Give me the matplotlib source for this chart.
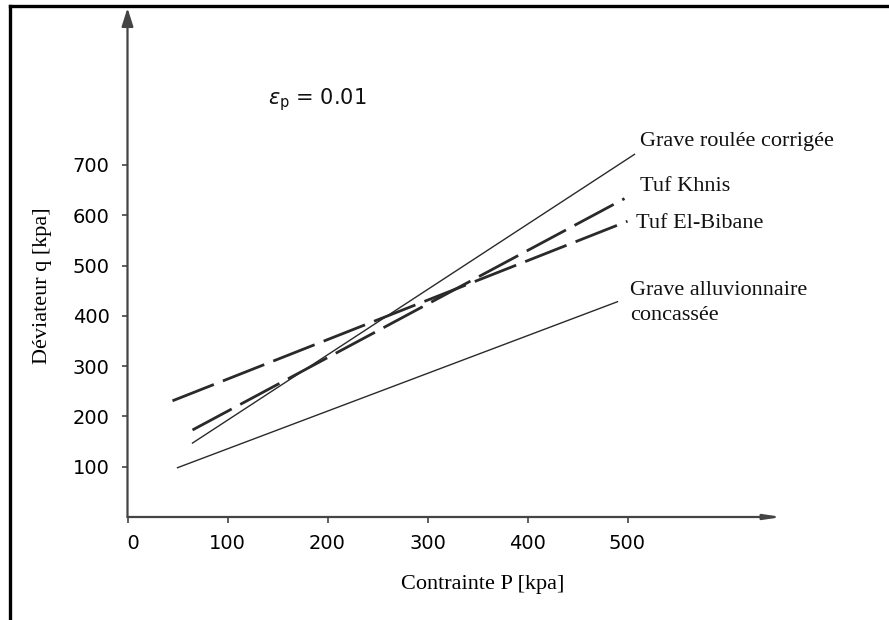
import matplotlib
matplotlib.use("Agg")
import matplotlib.pyplot as plt
from matplotlib.lines import Line2D

# values (P in kPa, q in kPa)
grave_roulee_p = [65, 507]
grave_roulee_q = [147, 721]
tuf_khnis_p = [65, 497]
tuf_khnis_q = [173, 633]
tuf_bibane_p = [45, 500]
tuf_bibane_q = [231, 588]
grave_alluv_p = [50, 490]
grave_alluv_q = [98, 428]

x_ticks = [0, 100, 200, 300, 400, 500]
y_ticks = [100, 200, 300, 400, 500, 600, 700]

serif = "Liberation Serif"

fig = plt.figure(figsize=(8.89, 6.2), dpi=100)
W, H = 889, 620

# axes placed so that 1 px = 1 kPa on x, 0.503 px = 1 kPa on y
x0, y0 = 127.5, 517
x_end, y_top = 782, 8
ax = fig.add_axes([x0 / W, (H - y0) / H, (x_end - x0) / W, (y0 - y_top) / H])
ax.set_xlim(0, x_end - x0)
ax.set_ylim(0, (y0 - y_top) / 0.503)

for s in ["top", "right", "left", "bottom"]:
    ax.spines[s].set_visible(False)

axis_col = "#444444"
# axes drawn as arrows
ax.annotate("", xy=(0, 1.0), xytext=(0, 0), xycoords="axes fraction",
            arrowprops=dict(arrowstyle="-|>,head_length=1.1,head_width=0.35",
                            color=axis_col, lw=1.6, shrinkA=0, shrinkB=0))
ax.annotate("", xy=(1.0, 0), xytext=(0, 0), xycoords="axes fraction",
            arrowprops=dict(arrowstyle="-|>,head_length=1.0,head_width=0.15",
                            color=axis_col, lw=1.6, shrinkA=0, shrinkB=0))

ax.set_xticks(x_ticks)
ax.set_yticks(y_ticks)
ax.tick_params(axis="both", direction="out", length=4, width=1.2, color=axis_col,
               labelsize=14)
ax.tick_params(axis="x", pad=8)
ax.tick_params(axis="y", pad=9)
ax.set_xticklabels([("  " if t == 0 else "") + str(t) for t in x_ticks])

line_col = "#2a2a2a"
ax.plot(grave_roulee_p, grave_roulee_q, color=line_col, lw=1.0)
ax.plot(grave_alluv_p, grave_alluv_q, color=line_col, lw=1.0)
l1, = ax.plot(tuf_khnis_p, tuf_khnis_q, color=line_col, lw=2.0)
l1.set_dashes((16, 3.5))
l2, = ax.plot(tuf_bibane_p, tuf_bibane_q, color=line_col, lw=2.0)
l2.set_dashes((16, 3.5))

lab_kw = dict(fontsize=16, family=serif, va="center", ha="left", color="#111111")
ax.text(512, 746, "Grave roulée corrigée", **lab_kw)
ax.text(512, 658, "Tuf Khnis", **lab_kw)
ax.text(509, 584, "Tuf El-Bibane", **lab_kw)
ax.text(503, 425, "Grave alluvionnaire\nconcassée", linespacing=1.45, **lab_kw)

ax.text(140, 829, r"$\varepsilon_{\mathrm{p}}$ = 0.01", fontsize=15, va="center",
        ha="left", color="#111111")

fig.text(43 / W, 1 - 286 / H, "Déviateur q [kpa]", rotation=90, fontsize=16,
         family=serif, ha="center", va="center")
fig.text(483 / W, 1 - 585 / H, "Contrainte P [kpa]", fontsize=16,
         family=serif, ha="center", va="center")

# picture frame: top and left edges only
fig.add_artist(Line2D([10 / W, 10 / W], [0, 1 - 6 / H], color="black", lw=2.4,
                      transform=fig.transFigure))
fig.add_artist(Line2D([10 / W, 1], [1 - 6 / H, 1 - 6 / H], color="black", lw=2.4,
                      transform=fig.transFigure))

fig.savefig("out.png", dpi=100)
